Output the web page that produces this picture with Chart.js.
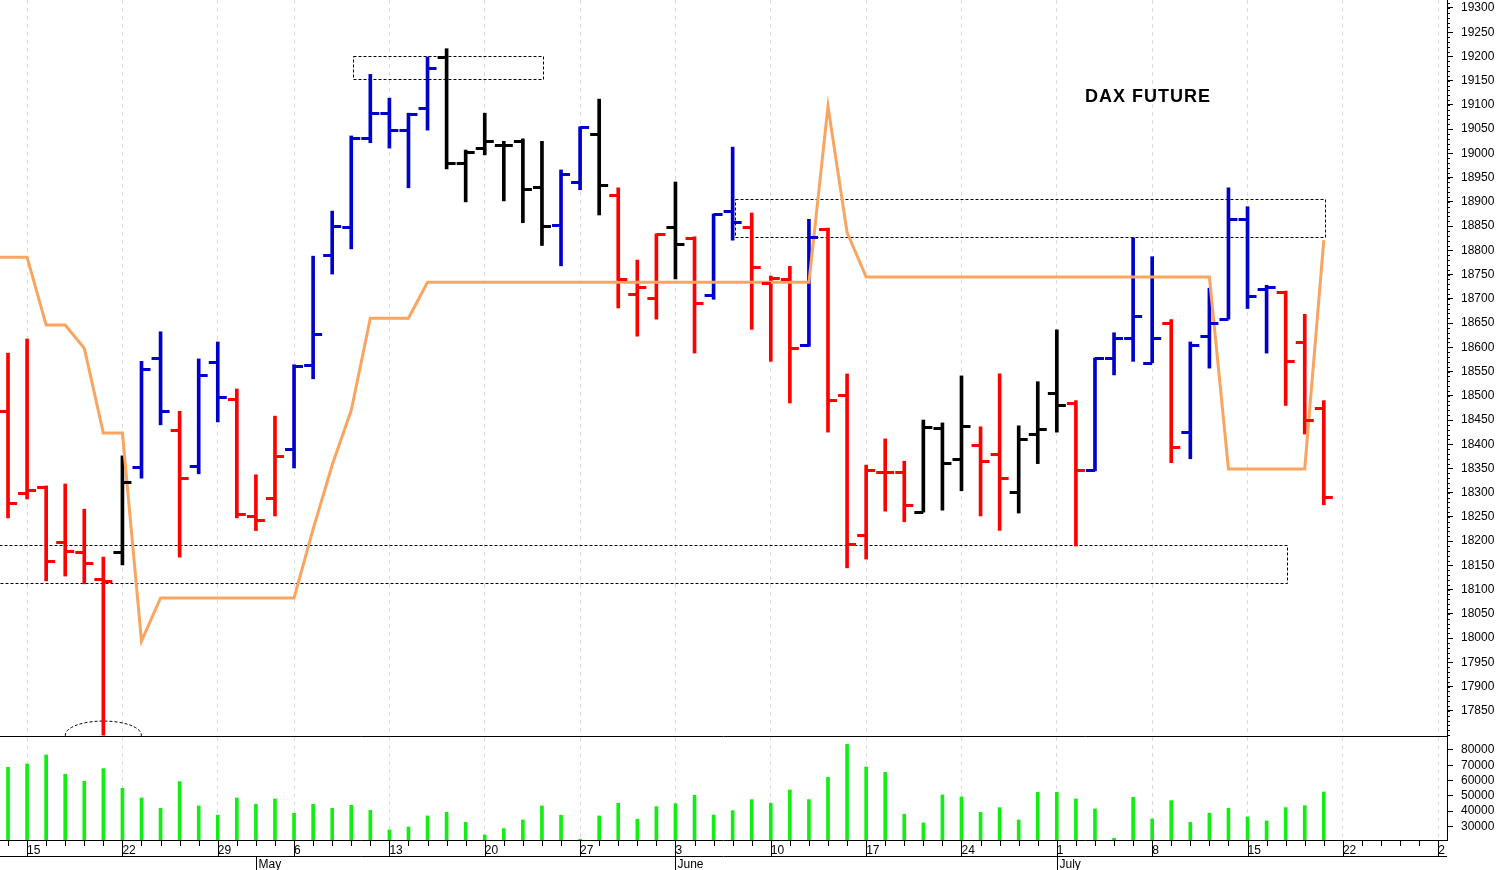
<!DOCTYPE html>
<html><head><meta charset="utf-8">
<script src="https://cdn.jsdelivr.net/npm/chart.js@4/dist/chart.umd.min.js"></script>
<style>
html,body{margin:0;padding:0;background:#fff;overflow:hidden}
#c1{position:absolute;left:0;top:0}
#c2{position:absolute;left:0;top:737px}
</style></head><body>
<canvas id="c1" width="1497" height="737"></canvas>
<canvas id="c2" width="1497" height="133"></canvas>
<script>
const opens  = [18468,18300,18312,18198,18178,18122,18178,18353,18578,18430,18355,18570,18494,18252,18289,18390,18564,18790,18848,19032,19083,19048,19094,19199,18980,19011,19017,19025,18931,18852,18941,19040,18914,18710,18701,18848,18826,18708,18881,18848,18732,18741,18604,18844,18501,18213,18343,18343,18260,18434,18370,18399,18380,18302,18421,18506,18485,18347,18578,18620,18568,18650,18425,18623,18658,18864,18720,18714,18611,18475];
const highs  = [18588,18617,18314,18318,18266,18167,18376,18571,18632,18468,18576,18611,18514,18337,18458,18564,18788,18881,19036,19163,19114,19083,19199,19216,19007,19083,19025,19030,19025,18966,19055,19112,18929,18780,18834,18941,18828,18875,19013,18877,18747,18767,18864,18846,18545,18357,18411,18365,18450,18444,18541,18436,18545,18438,18529,18636,18490,18578,18630,18826,18787,18657,18611,18722,18929,18890,18728,18716,18668,18490];
const lows   = [18248,18287,18118,18128,18112,17800,18151,18330,18440,18167,18339,18446,18248,18222,18252,18351,18535,18751,18803,19022,19011,18929,19048,18968,18900,18997,18902,18857,18810,18768,18925,18873,18681,18623,18658,18741,18588,18699,18821,18637,18571,18485,18602,18425,18145,18163,18262,18240,18260,18264,18304,18252,18222,18258,18360,18425,18190,18345,18543,18571,18568,18362,18370,18557,18658,18680,18588,18480,18421,18275];
const closes = [18279,18306,18159,18180,18155,18118,18322,18555,18468,18330,18543,18498,18256,18244,18376,18562,18628,18850,19032,19083,19048,19081,19176,18980,19003,19025,19017,18927,18850,18958,19055,18935,18741,18724,18834,18813,18691,18875,18858,18765,18743,18598,18827,18491,18194,18347,18343,18275,18436,18362,18438,18365,18330,18411,18432,18480,18347,18578,18620,18665,18620,18395,18605,18650,18864,18706,18724,18571,18450,18292];
const barColors = "RRRRRRKBBRBBRRRBBBBBBBBKKKKKKBBKRRRKRBBRRRBRRRRRKKKRRKKKRBBBBRBBBBBRRR";
const orange = [18786,18786,18646,18646,18598,18423,18423,17994,18083,18083,18083,18083,18083,18083,18083,18083,18225,18357,18470,18660,18660,18660,18734,18734,18734,18734,18734,18734,18734,18734,18734,18734,18734,18734,18734,18734,18734,18734,18734,18734,18734,18734,18734,19097,18837,18745,18745,18745,18745,18745,18745,18745,18745,18745,18745,18745,18745,18745,18745,18745,18745,18745,18745,18745,18349,18349,18349,18349,18349,18821];
const volumes = [68640,70820,76720,64060,59470,67770,54890,48560,41790,59250,43320,37200,48560,44410,47900,38510,44410,41790,43750,40480,27600,29560,36770,39170,32620,24320,28470,34150,43320,37200,21500,36770,45060,34580,42880,44840,50300,37420,40260,47460,45060,53790,47460,62090,83700,68860,65370,37860,32180,50520,49210,39170,42220,34150,52270,52270,47900,41350,22140,48990,34800,46810,32620,38510,41790,36110,33490,42220,43530,52490];
const weekLabels = {2:"15",7:"22",12:"29",16:"6",21:"13",26:"20",31:"27",36:"3",41:"10",46:"17",51:"24",56:"1",61:"8",66:"15",71:"22",76:"2"};
const monthLabels = {14:"May",36:"June",56:"July"};
const priceTicks = [17850,17900,17950,18000,18050,18100,18150,18200,18250,18300,18350,18400,18450,18500,18550,18600,18650,18700,18750,18800,18850,18900,18950,19000,19050,19100,19150,19200,19250,19300];
const volumeTicks = [30000,40000,50000,60000,70000,80000];
const boxes = [[19.09,29.05,19201,19154],[39.12,70.06,18906,18828],[0,68.07,18192,18114]];

const XMIN = 0.58, XMAX = 76.46;
const colMap = {R:"#ff0000",B:"#0000cc",K:"#000000"};
const idx = opens.map((_,i)=>i+1);
const cols = idx.map(i=>colMap[barColors[i-1]]);
const weekTicks = Object.keys(weekLabels).map(Number);
const FONT = "12px 'Liberation Sans', Arial";

function xScale(showLabels){
  return {type:"linear",min:XMIN,max:XMAX,offset:false,bounds:"ticks",
    afterBuildTicks:s=>{s.ticks=weekTicks.map(v=>({value:v}));},
    grid:{color:"#dcdcdc",drawTicks:false,offset:false},
    border:{display:false,dash:[4,4]},
    ticks:{display:showLabels,autoSkip:false,maxRotation:0,align:"start",padding:3,
      color:"#000",font:{family:"Liberation Sans, Arial",size:12},
      callback:v=>weekLabels[v]||""},
    afterFit:s=>{s.height=showLabels?30:0;}};
}
function yScale(min,max,vals){
  return {position:"right",min:min,max:max,
    afterBuildTicks:s=>{s.ticks=vals.map(v=>({value:v}));},
    afterFit:s=>{s.width=50;},
    grid:{drawOnChartArea:false,drawTicks:true,tickLength:6,color:"#000"},
    border:{color:"#000"},
    ticks:{display:false}};
}
function drawYLabels(ch,vals){
  const y=ch.scales.y,c=ch.ctx,a=ch.chartArea;
  c.save();c.fillStyle="#000";c.font=FONT;c.textBaseline="middle";c.textAlign="left";
  vals.forEach(v=>c.fillText(String(v),a.right+14,y.getPixelForValue(v)));
  c.restore();
}

const ohlcTicks = {id:"ohlcTicks",
  afterDatasetsDraw(ch){
    const x=ch.scales.x,y=ch.scales.y,c=ch.ctx;
    c.save();c.lineWidth=3;
    idx.forEach((i,k)=>{
      const px=x.getPixelForValue(i);c.strokeStyle=cols[k];
      const po=Math.round(y.getPixelForValue(opens[k]))+0.5, pc=Math.round(y.getPixelForValue(closes[k]))+0.5;
      c.beginPath();c.moveTo(px-9,po);c.lineTo(px,po);c.moveTo(px,pc);c.lineTo(px+9,pc);c.stroke();
    });
    c.restore();
  },
  beforeDatasetsDraw(ch){
    const x=ch.scales.x,y=ch.scales.y,c=ch.ctx,a=ch.chartArea;
    c.save();c.beginPath();c.rect(a.left,a.top,a.right-a.left,a.bottom-a.top);c.clip();
    c.strokeStyle="#000";c.lineWidth=1;c.setLineDash([3,2]);
    boxes.forEach(b=>{
      const x1=Math.round(x.getPixelForValue(b[0]))+0.5,x2=Math.round(x.getPixelForValue(b[1]))+0.5;
      const y1=Math.round(y.getPixelForValue(b[2]))+0.5,y2=Math.round(y.getPixelForValue(b[3]))+0.5;
      c.strokeRect(x1,y1,x2-x1,y2-y1);
    });
    const ex=x.getPixelForValue(6),ey=y.getPixelForValue(lows[5]);
    c.beginPath();c.ellipse(ex,ey,38,14,0,0,Math.PI*2);c.stroke();
    c.restore();
    c.save();c.fillStyle="#000";c.font="bold 18px 'Liberation Sans', Arial";c.textBaseline="middle";
    if(c.letterSpacing!==undefined)c.letterSpacing="1px";
    c.fillText("DAX FUTURE",1085,97);c.restore();
  },
  afterDraw(ch){
    const y=ch.scales.y,c=ch.ctx,a=ch.chartArea;
    c.save();c.strokeStyle="#000";c.lineWidth=1;
    for(let v=17800;v<=19310;v+=10){const py=Math.round(y.getPixelForValue(v))+0.5;if(py<0||py>a.bottom)continue;
      c.beginPath();c.moveTo(a.right,py);c.lineTo(a.right+3,py);c.stroke();}
    c.beginPath();c.moveTo(0,a.bottom-0.5);c.lineTo(a.right,a.bottom-0.5);c.stroke();
    c.restore();
    drawYLabels(ch,priceTicks);
  }};

new Chart(document.getElementById("c1"),{
  data:{datasets:[
    {type:"line",order:1,data:[{x:0,y:orange[0]}].concat(idx.map((i,k)=>({x:i,y:orange[k]}))),borderColor:"#f9a560",borderWidth:3,pointRadius:0,tension:0},
    {type:"bar",order:2,data:idx.map((i,k)=>({x:i,y:[lows[k],highs[k]]})),backgroundColor:cols,barThickness:3,borderWidth:0}
  ]},
  options:{responsive:false,animation:false,devicePixelRatio:1,
    layout:{padding:0},
    plugins:{legend:{display:false},tooltip:{enabled:false}},
    scales:{x:xScale(false),y:yScale(17796,19316.5,priceTicks)}},
  plugins:[ohlcTicks]
});

const volPlugin={id:"volAxis",
  afterDraw(ch){
    const x=ch.scales.x,c=ch.ctx,a=ch.chartArea;
    c.save();c.strokeStyle="#000";c.lineWidth=1;
    c.beginPath();c.moveTo(0,a.bottom+0.5);c.lineTo(a.right,a.bottom+0.5);c.stroke();
    for(let i=1;i<=76;i++){const px=Math.round(x.getPixelForValue(i))+0.5;if(px>a.right)break;
      c.beginPath();c.moveTo(px,a.bottom);c.lineTo(px,a.bottom+(weekLabels[i]?16:6));c.stroke();}
    c.beginPath();c.moveTo(0,a.bottom+16.5);c.lineTo(a.right,a.bottom+16.5);c.stroke();
    c.fillStyle="#000";c.font=FONT;c.textBaseline="middle";
    Object.keys(monthLabels).forEach(k=>{const px=Math.round(x.getPixelForValue(+k))+0.5;
      c.beginPath();c.moveTo(px,a.bottom+16);c.lineTo(px,a.bottom+33);c.stroke();
      c.fillText(monthLabels[k],px+2,a.bottom+25);});
    c.restore();
    drawYLabels(ch,volumeTicks);
  }};
new Chart(document.getElementById("c2"),{
  data:{datasets:[{type:"bar",data:idx.map((i,k)=>({x:i,y:volumes[k]})),backgroundColor:"#11ee11",barThickness:3,borderWidth:0}]},
  options:{responsive:false,animation:false,devicePixelRatio:1,layout:{padding:0},
    plugins:{legend:{display:false},tooltip:{enabled:false}},
    scales:{x:xScale(true),y:yScale(21000,88500,volumeTicks)}},
  plugins:[volPlugin]
});
</script></body></html>
